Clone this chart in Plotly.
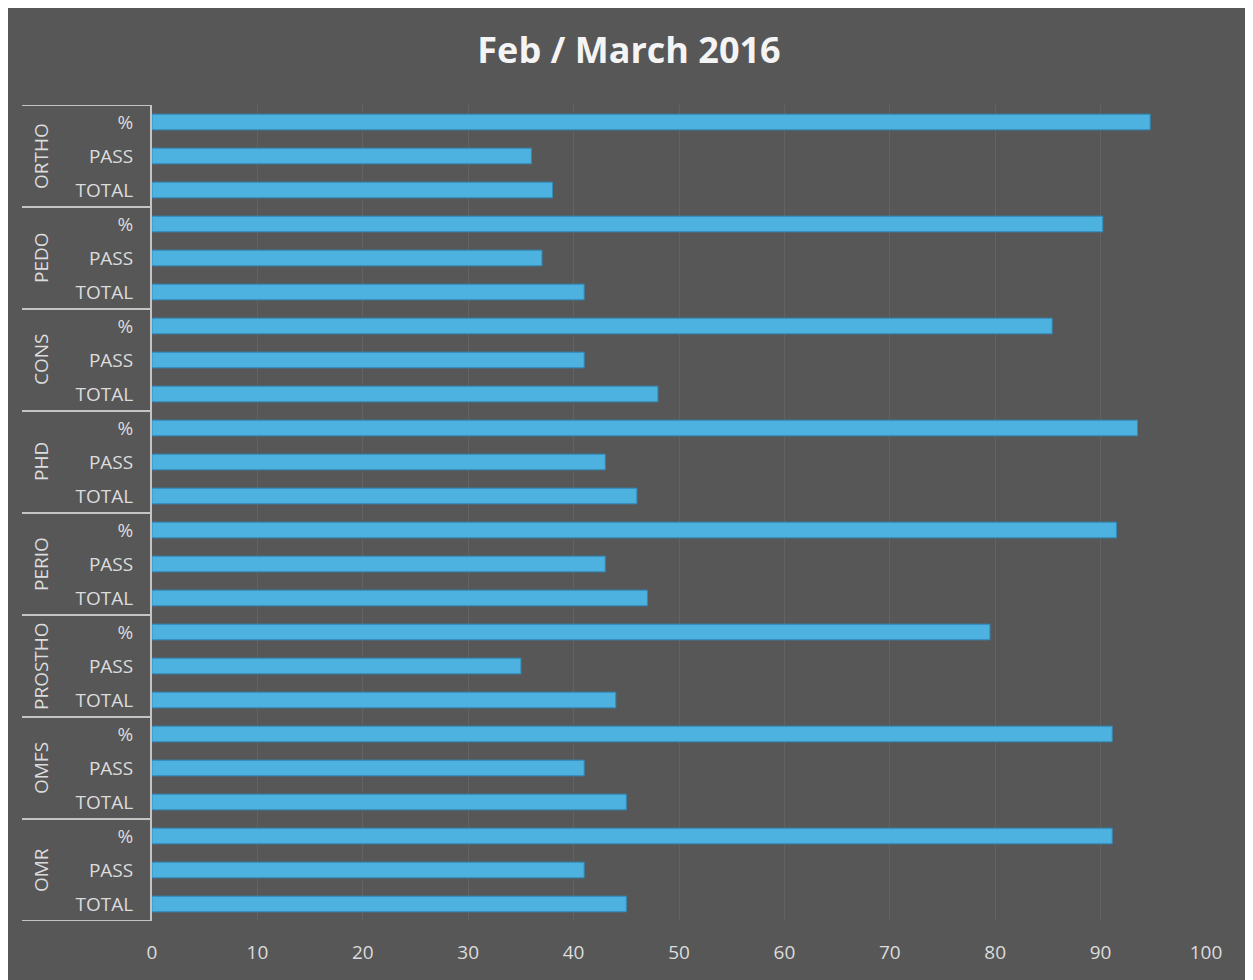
import plotly.graph_objects as go

# ---- data (top to bottom) ----
departments = ["ORTHO", "PEDO", "CONS", "PHD", "PERIO", "PROSTHO", "OMFS", "OMR"]
measures = ["%", "PASS", "TOTAL"]
pct_values = [94.7, 90.2, 85.4, 93.5, 91.5, 79.5, 91.1, 91.1]
pass_values = [36, 37, 41, 43, 43, 35, 41, 41]
total_values = [38, 41, 48, 46, 47, 44, 45, 45]
x_ticks = [0, 10, 20, 30, 40, 50, 60, 70, 80, 90, 100]

# build row lists
ys, xs, labels = [], [], []
row = 0
for i, d in enumerate(departments):
    for m, v in zip(measures, [pct_values[i], pass_values[i], total_values[i]]):
        ys.append(row)
        xs.append(v)
        labels.append(m)
        row += 1
n_rows = row

OFF = 8  # page body margin
W, H = 1253 - OFF, 980 - OFF
L, R, T, B = 152 - OFF, 1206 - OFF, 105 - OFF, 921 - OFF
pw, ph = R - L, B - T

def px_x(p):
    return (p - OFF - L) / pw

def px_y(p):
    return (B - (p - OFF)) / ph

BG = "#575757"
LINE = "#c4c4c4"
TXT = "#dcdcdc"
FONT = "Open Sans"

fig = go.Figure()
fig.add_trace(go.Bar(
    x=xs, y=ys, orientation="h", width=0.46,
    marker=dict(color="#4db2df", line=dict(color="#2f8dbd", width=1)),
    hoverinfo="x",
))

shapes = []
# scanned-page gray background (white edges around)
shapes.append(dict(type="rect", xref="paper", yref="paper", layer="below",
                   x0=px_x(8), x1=px_x(1249), y0=px_y(8), y1=px_y(980),
                   fillcolor=BG, line=dict(width=0)))
# group divider lines in the label area
for g in range(len(departments) + 1):
    yv = g * len(measures) - 0.5
    shapes.append(dict(type="line", xref="paper", yref="y",
                       x0=px_x(22), x1=0, y0=yv, y1=yv,
                       line=dict(color=LINE, width=2)))

annotations = []
for i, d in enumerate(departments):
    yc = i * len(measures) + 1
    annotations.append(dict(text=d, xref="paper", yref="y", x=px_x(41), y=yc,
                            textangle=-90, showarrow=False,
                            font=dict(family=FONT, size=19, color=TXT),
                            xanchor="center", yanchor="middle"))

fig.update_layout(
    width=W, height=H,
    margin=dict(l=L, r=W - R, t=T, b=H - B),
    paper_bgcolor="white",
    plot_bgcolor="rgba(0,0,0,0)",
    showlegend=False,
    title=dict(text="<b>Feb / March 2016</b>", x=(629 - OFF) / W, xref="container",
               xanchor="center", y=1 - (50 - OFF) / H, yref="container",
               yanchor="middle",
               font=dict(family=FONT, size=36, color="#f4f4f4")),
    xaxis=dict(range=[0, 100], tickvals=x_ticks, showgrid=True,
               gridcolor="#626262", gridwidth=1, zeroline=False,
               showline=False, ticks="", ticklabelstandoff=18,
               tickfont=dict(family=FONT, size=19, color=TXT)),
    yaxis=dict(range=[n_rows - 0.5, -0.5], tickvals=ys, ticktext=labels,
               showgrid=False, zeroline=False, showline=True,
               linecolor=LINE, linewidth=2, ticks="", ticklabelstandoff=13,
               tickfont=dict(family=FONT, size=19, color=TXT)),
    shapes=shapes,
    annotations=annotations,
    bargap=0.5,
)

fig.write_html("out.html")
